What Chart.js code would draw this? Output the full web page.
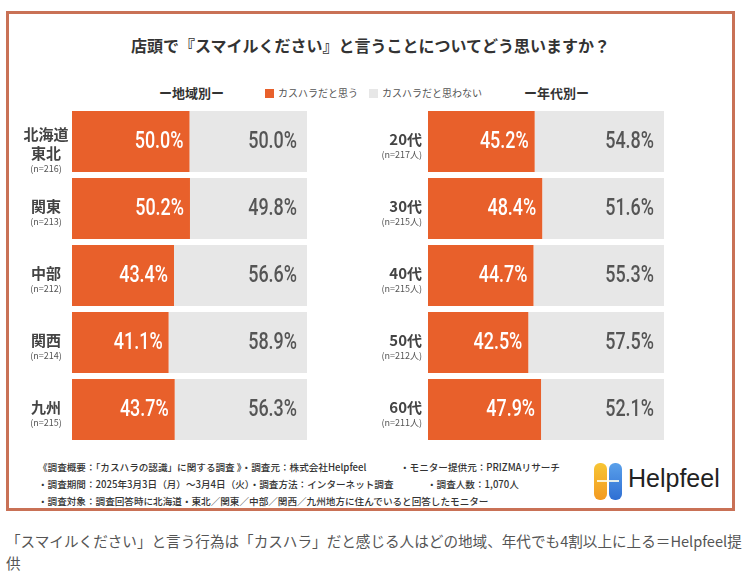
<!DOCTYPE html>
<html>
<head>
<meta charset="utf-8">
<script src="https://cdn.jsdelivr.net/npm/chart.js@4.4.1/dist/chart.umd.min.js"></script>
<style>
  body{margin:0;background:#fff;width:753px;height:575px;position:relative;overflow:hidden;
       font-family:"Noto Sans CJK JP","Noto Sans",sans-serif;color:#333;}
  #frame{position:absolute;left:6px;top:11px;width:723px;height:494px;border:3px solid #c97156;}
  .abs{position:absolute;white-space:nowrap;}
  #title{left:0;width:741px;top:33px;text-align:center;font-size:16px;font-weight:bold;color:#333;}
  .head{top:83px;font-size:13px;font-weight:bold;color:#333;}
  .leg{top:85px;font-size:10px;color:#555;}
  .sw{display:inline-block;width:9px;height:9px;vertical-align:-1px;margin-right:4px;}
  .note{font-size:9.6px;color:#333;font-weight:500;}
  canvas{position:absolute;}
  #logoIcon{left:594px;top:463px;width:28px;height:37px;}
  .pill{position:absolute;top:0;width:13px;height:37px;border-radius:6px;}
  #logoText{left:628px;top:464px;font-family:"Liberation Sans",Arial,sans-serif;font-size:25px;color:#222;}
  #caption{left:6px;top:530px;font-size:14.6px;color:#555;line-height:22px;}
</style>
</head>
<body>
<div id="frame"></div>
<div class="abs" id="title">店頭で『スマイルください』と言うことについてどう思いますか？</div>
<div class="abs head" style="left:159px;">ー地域別ー</div>
<div class="abs head" style="left:524px;">ー年代別ー</div>
<div class="abs leg" id="leg1" style="left:265px;"></div>
<div class="abs leg" id="leg2" style="left:369px;"></div>

<canvas id="regionChart" width="310" height="335" style="left:0;top:108px;"></canvas>
<canvas id="ageChart" width="326" height="335" style="left:340px;top:108px;"></canvas>

<div class="abs note" style="left:38px;top:460px;">《調査概要：「カスハラの認識」に関する調査 》・調査元：株式会社Helpfeel</div>
<div class="abs note" style="left:400px;top:460px;">・モニター提供元：PRIZMAリサーチ</div>
<div class="abs note" style="left:38px;top:477px;">・調査期間：2025年3月3日（月）～3月4日（火）・調査方法：インターネット調査</div>
<div class="abs note" style="left:427px;top:477px;">・調査人数：1,070人</div>
<div class="abs note" style="left:38px;top:494px;">・調査対象：調査回答時に北海道・東北／関東／中部／関西／九州地方に住んでいると回答したモニター</div>

<div class="abs" id="logoIcon">
  <div class="pill" style="left:0;background:linear-gradient(#f7c534,#f39a22);"></div>
  <div class="pill" style="left:15px;background:linear-gradient(#5aa0ea,#2f6fd3);"></div>
  <div style="position:absolute;left:3px;top:17px;width:22px;height:2px;background:rgba(255,255,240,0.85);"></div>
</div>
<div class="abs" id="logoText">Helpfeel</div>

<div class="abs" id="caption">「スマイルください」と言う行為は「カスハラ」だと感じる人はどの地域、年代でも4割以上に上る＝Helpfeel提<br>供</div>

<script>
// series names
var seriesNames = ['カスハラだと思う', 'カスハラだと思わない'];
var seriesColors = ['#e8602b', '#e7e7e7'];

// by region
var regionNames = [['北海道', '東北'], ['関東'], ['中部'], ['関西'], ['九州']];
var regionN = ['(n=216)', '(n=213)', '(n=212)', '(n=214)', '(n=215)'];
var regionYes = [50.0, 50.2, 43.4, 41.1, 43.7];
var regionNo = [50.0, 49.8, 56.6, 58.9, 56.3];

// by age
var ageNames = [['20代'], ['30代'], ['40代'], ['50代'], ['60代']];
var ageN = ['(n=217人)', '(n=215人)', '(n=215人)', '(n=212人)', '(n=211人)'];
var ageYes = [45.2, 48.4, 44.7, 42.5, 47.9];
var ageNo = [54.8, 51.6, 55.3, 57.5, 52.1];

// no condensed font installed, so squeeze Roboto sideways
var VALUE_FONT = '500 23px "Roboto", "DejaVu Sans", sans-serif';
var SQUEEZE = 0.78;
var JP_FONT = '"Noto Sans CJK JP", sans-serif';

// legend (html)
document.getElementById('leg1').innerHTML = '<span class="sw" style="background:' + seriesColors[0] + '"></span>' + seriesNames[0];
document.getElementById('leg2').innerHTML = '<span class="sw" style="background:' + seriesColors[1] + '"></span>' + seriesNames[1];

// draws the % values inside each bar segment
var valueLabels = {
	id: 'valueLabels',
	afterDatasetsDraw: function(chart) {
		var ctx = chart.ctx;
		chart.data.datasets.forEach(function(ds, di) {
			chart.getDatasetMeta(di).data.forEach(function(bar, i) {
				var x = bar.x - (di === 0 ? 6 : 10);
				ctx.save();
				ctx.translate(x, bar.y + 1);
				ctx.scale(SQUEEZE, 1);
				ctx.font = VALUE_FONT;
				ctx.textAlign = 'right';
				ctx.textBaseline = 'middle';
				ctx.fillStyle = di === 0 ? '#ffffff' : '#555555';
				ctx.fillText(ds.data[i].toFixed(1) + '%', 0, 0);
				ctx.restore();
			});
		});
	}
};

// draws the category names + sample sizes left of each row
var rowLabels = {
	id: 'rowLabels',
	afterDraw: function(chart, args, opts) {
		var ctx = chart.ctx;
		var yScale = chart.scales.y;
		ctx.save();
		ctx.textAlign = opts.align;
		ctx.textBaseline = 'middle';
		opts.names.forEach(function(lines, i) {
			var cy = yScale.getPixelForValue(i);
			var y = cy - 2 - (lines.length - 1) * 5;
			ctx.fillStyle = '#444';
			ctx.font = 'bold 15px ' + JP_FONT;
			lines.forEach(function(line, k) {
				ctx.fillText(line, opts.x, y + k * 19);
			});
			ctx.fillStyle = '#555';
			ctx.font = '9px ' + JP_FONT;
			ctx.fillText(opts.counts[i], opts.x, y + (lines.length - 1) * 19 + 15);
		});
		ctx.restore();
	}
};

function makeChart(id, names, counts, yes, no, padLeft, padRight, labelX, labelAlign) {
	var ctx = document.getElementById(id);
	return new Chart(ctx, {
		type: 'bar',
		data: {
			labels: names.map(function(n) { return n.join(''); }),
			datasets: [{
				label: seriesNames[0],
				data: yes,
				backgroundColor: seriesColors[0],
				borderWidth: 0,
				barPercentage: 0.91,
				categoryPercentage: 1
			}, {
				label: seriesNames[1],
				data: no,
				backgroundColor: seriesColors[1],
				borderWidth: 0,
				barPercentage: 0.91,
				categoryPercentage: 1
			}]
		},
		options: {
			indexAxis: 'y',
			responsive: false,
			animation: false,
			layout: { padding: { left: padLeft, right: padRight, top: 0, bottom: 0 } },
			scales: {
				x: { stacked: true, min: 0, max: 100, display: false },
				y: { stacked: true, display: false }
			},
			plugins: {
				legend: { display: false },
				tooltip: { enabled: false },
				rowLabels: { names: names, counts: counts, x: labelX, align: labelAlign }
			}
		},
		plugins: [valueLabels, rowLabels]
	});
}

makeChart('regionChart', regionNames, regionN, regionYes, regionNo, 72, 3, 46, 'center');
makeChart('ageChart', ageNames, ageN, ageYes, ageNo, 88, 2, 82, 'right');
</script>
</body>
</html>
